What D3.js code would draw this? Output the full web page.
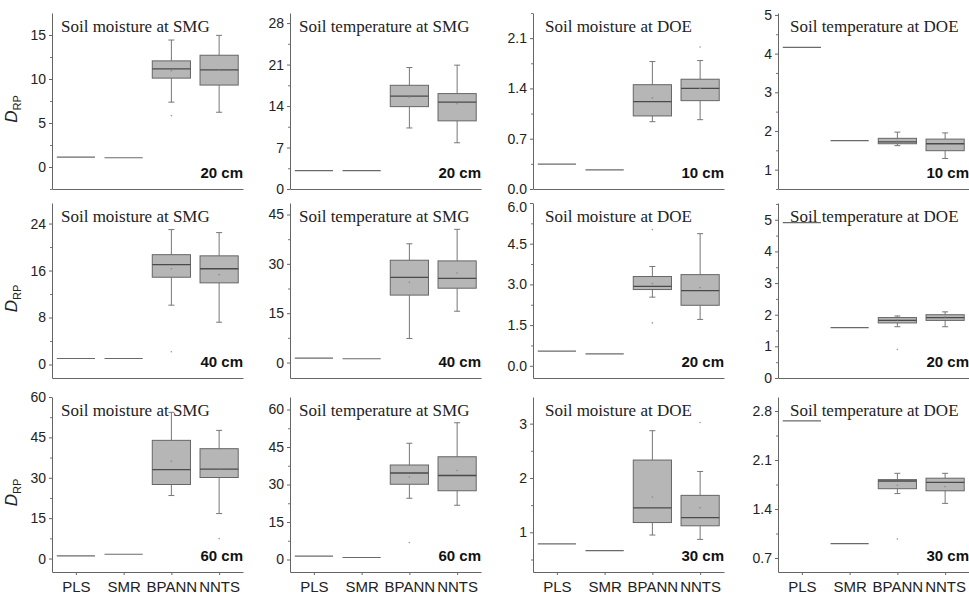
<!DOCTYPE html>
<html>
<head>
<meta charset="utf-8">
<script src="https://cdn.jsdelivr.net/npm/d3@7"></script>
<style>
  body { margin: 0; background: #fff; }
  .tick text { font-family: "Liberation Sans", Arial, sans-serif; }
</style>
</head>
<body>
<div id="main"></div>
<script>
// panels in row-major order: rows = depth, cols = SMG moisture, SMG temp, DOE moisture, DOE temp
const methods = ["PLS", "SMR", "BPANN", "NNTS"];
const titles = ["Soil moisture at SMG", "Soil temperature at SMG", "Soil moisture at DOE", "Soil temperature at DOE"];
const depthLabels = ["20 cm", "20 cm", "10 cm", "10 cm",
                     "40 cm", "40 cm", "20 cm", "20 cm",
                     "60 cm", "60 cm", "30 cm", "30 cm"];

const yDomains = [[-2.5, 17.5], [0, 29.7], [0, 2.45], [0.5, 5.05],
                  [-2.3, 27.5], [-4.7, 48.5], [-0.45, 6.0], [0, 5.53],
                  [-5, 60], [-5, 65], [0.27, 3.49], [0.5, 3.0]];
const yTicks = [[0, 5, 10, 15], [0, 7, 14, 21, 28], [0, 0.7, 1.4, 2.1], [1, 2, 3, 4, 5],
                [0, 8, 16, 24], [0, 15, 30, 45], [0, 1.5, 3, 4.5, 6], [0, 1, 2, 3, 4, 5],
                [0, 15, 30, 45, 60], [0, 15, 30, 45, 60], [1, 2, 3], [0.7, 1.4, 2.1, 2.8]];
const yFormats = ["d", "d", ".1f", "d", "d", "d", ".1f", "d", "d", "d", "d", ".1f"];

// single values for PLS and SMR
const plsValues = [1.12, 3.1, 0.345, 4.16, 1.02, 1.36, 0.54, 4.91, 0.99, 1.33, 0.786, 2.66];
const smrValues = [1.05, 3.1, 0.265, 1.75, 1.02, 1.15, 0.44, 1.59, 1.6, 0.8, 0.664, 0.905];

// [min, q1, median, q3, max]
const bpannStats = [
  [7.37, 10.1, 11.15, 12.06, 14.43], [10.3, 13.9, 15.67, 17.5, 20.5], [0.937, 1.017, 1.216, 1.452, 1.774], [1.62, 1.67, 1.72, 1.81, 1.97],
  [10.1, 14.86, 17.0, 18.7, 22.97], [7.3, 20.5, 25.9, 31.1, 36.1], [2.53, 2.81, 2.93, 3.29, 3.66], [1.62, 1.74, 1.82, 1.91, 1.96],
  [23.4, 27.5, 33.0, 43.9, 54.3], [24.5, 30.1, 34.6, 37.8, 46.5], [0.95, 1.18, 1.45, 2.33, 2.87], [1.62, 1.69, 1.8, 1.82, 1.91]
];
const nntsStats = [
  [6.22, 9.31, 11.03, 12.7, 14.96], [7.8, 11.5, 14.66, 16.1, 20.9], [0.965, 1.23, 1.4, 1.528, 1.788], [1.29, 1.49, 1.67, 1.79, 1.95],
  [7.2, 13.9, 16.3, 18.5, 22.46], [15.6, 22.6, 25.6, 30.9, 40.5], [1.71, 2.23, 2.77, 3.36, 4.87], [1.62, 1.82, 1.91, 2.0, 2.09],
  [16.7, 30.1, 33.2, 40.8, 47.6], [21.7, 27.5, 33.6, 41.1, 54.7], [0.87, 1.12, 1.27, 1.68, 2.12], [1.48, 1.66, 1.78, 1.84, 1.91]
];
const bpannMeans = [10.95, 15.5, 1.268, 1.74, 16.3, 24.4, 3.03, 1.84, 36.1, 33, 1.65, 1.74];
const nntsMeans = [11.0, 14.4, 1.4, 1.65, 15.3, 27.2, 2.88, 1.93, 33.4, 35.6, 1.45, 1.72];
const bpannOutliers = [[5.84], [], [], [], [2.16], [], [5.02, 1.58], [0.9], [], [6.8], [], [0.97]];
const nntsOutliers = [[], [], [1.977], [], [], [], [], [], [7.4], [], [3.02], []];

const width = 969;
const height = 598;
const colX = [52, 290, 533, 778];
const panelW = 191;
const rowTop = [13, 203, 397];
const rowBottom = [189, 378, 572];

const svg = d3.select("#main").append("svg").attr("width", width).attr("height", height);

for (let r = 0; r < 3; r++) {
  for (let c = 0; c < 4; c++) {
    const i = r * 4 + c;
    const x0 = colX[c];
    const g = svg.append("g");

    const x = d3.scalePoint().domain(methods).range([x0, x0 + panelW]).padding(0.5);
    const y = d3.scaleLinear().domain(yDomains[i]).range([rowBottom[r], rowTop[r]]);
    const bw = x.step() * 0.8;

    // single-value lines
    [["PLS", plsValues[i]], ["SMR", smrValues[i]]].forEach(([m, v]) => {
      g.append("line")
        .attr("x1", x(m) - bw / 2).attr("x2", x(m) + bw / 2)
        .attr("y1", y(v)).attr("y2", y(v))
        .attr("stroke", "#6a6a6a").attr("stroke-width", 1.2);
    });

    // boxes
    const boxes = [
      { m: "BPANN", s: bpannStats[i], mean: bpannMeans[i], out: bpannOutliers[i] },
      { m: "NNTS", s: nntsStats[i], mean: nntsMeans[i], out: nntsOutliers[i] }
    ];
    boxes.forEach((b) => {
      const cx = x(b.m);
      const [mn, q1, md, q3, mx] = b.s;
      g.append("line").attr("x1", cx).attr("x2", cx).attr("y1", y(mx)).attr("y2", y(q3))
        .attr("stroke", "#777").attr("stroke-width", 1);
      g.append("line").attr("x1", cx).attr("x2", cx).attr("y1", y(q1)).attr("y2", y(mn))
        .attr("stroke", "#777").attr("stroke-width", 1);
      [mn, mx].forEach((v) => {
        g.append("line").attr("x1", cx - 3).attr("x2", cx + 3).attr("y1", y(v)).attr("y2", y(v))
          .attr("stroke", "#777").attr("stroke-width", 1);
      });
      g.append("rect")
        .attr("x", cx - bw / 2).attr("y", y(q3))
        .attr("width", bw).attr("height", y(q1) - y(q3))
        .attr("fill", "#b6b6b6").attr("stroke", "#666").attr("stroke-width", 1);
      g.append("line").attr("x1", cx - bw / 2).attr("x2", cx + bw / 2).attr("y1", y(md)).attr("y2", y(md))
        .attr("stroke", "#4a4a4a").attr("stroke-width", 1.3);
      g.append("circle").attr("cx", cx).attr("cy", y(b.mean)).attr("r", 0.8).attr("fill", "#8a8a8a");
      b.out.forEach((v) => {
        g.append("circle").attr("cx", cx).attr("cy", y(v)).attr("r", 0.8).attr("fill", "#999");
      });
    });

    // y axis with minor ticks
    const step = yTicks[i][1] - yTicks[i][0];
    const minor = d3.range(yTicks[i][0] - step / 2, yDomains[i][1], step)
      .filter((v) => v >= yDomains[i][0] && v <= yDomains[i][1]);
    g.append("g").attr("transform", `translate(${x0},0)`)
      .call(d3.axisLeft(y).tickValues(minor).tickSize(2).tickSizeOuter(0).tickFormat(""))
      .call((a) => a.select(".domain").remove())
      .selectAll("line").attr("stroke", "#777");
    const yAxis = g.append("g").attr("transform", `translate(${x0},0)`)
      .call(d3.axisLeft(y).tickValues(yTicks[i]).tickSize(3).tickSizeOuter(0).tickPadding(3)
        .tickFormat(d3.format(yFormats[i])));
    yAxis.select(".domain").attr("stroke", "#666");
    yAxis.selectAll("line").attr("stroke", "#666");
    yAxis.selectAll("text").style("font-size", "14px").attr("fill", "#222");
    // the 6.0 label of the DOE moisture 20 cm panel sits a little lower in the original
    if (i === 6) {
      yAxis.selectAll(".tick text").filter((d) => d === 6).attr("dy", "0.62em");
    }

    // x axis (ticks and labels on the bottom row only)
    const xAxis = g.append("g").attr("transform", `translate(0,${rowBottom[r]})`)
      .call(d3.axisBottom(x).tickSize(r === 2 ? 3 : 0).tickSizeOuter(0).tickPadding(6));
    xAxis.select(".domain").attr("stroke", "#666");
    xAxis.selectAll("line").attr("stroke", "#666");
    xAxis.selectAll("text").style("font-size", "15px").attr("fill", "#222")
      .style("display", r === 2 ? null : "none");

    // panel title and depth
    g.append("text")
      .attr("x", x0 + (c < 2 ? 9 : 12)).attr("y", rowTop[r] + 19)
      .style("font-family", "'Liberation Serif', 'Times New Roman', serif")
      .style("font-size", "17px").attr("fill", "#222")
      .text(titles[c]);
    g.append("text")
      .attr("x", x0 + panelW).attr("y", rowBottom[r] - 11)
      .attr("text-anchor", "end")
      .style("font-family", "'Liberation Sans', Arial, sans-serif")
      .style("font-size", "15px").style("font-weight", "bold").attr("fill", "#111")
      .text(depthLabels[i]);

    // y label on first column
    if (c === 0) {
      const lbl = g.append("text")
        .attr("transform", `translate(17,${(rowTop[r] + rowBottom[r]) / 2 + 8}) rotate(-90)`)
        .attr("text-anchor", "middle")
        .style("font-family", "'Liberation Sans', Arial, sans-serif")
        .attr("fill", "#222");
      lbl.append("tspan").style("font-size", "17px").style("font-style", "italic").text("D");
      lbl.append("tspan").style("font-size", "11px").attr("dy", 4).text("RP");
    }
  }
}
</script>
</body>
</html>
